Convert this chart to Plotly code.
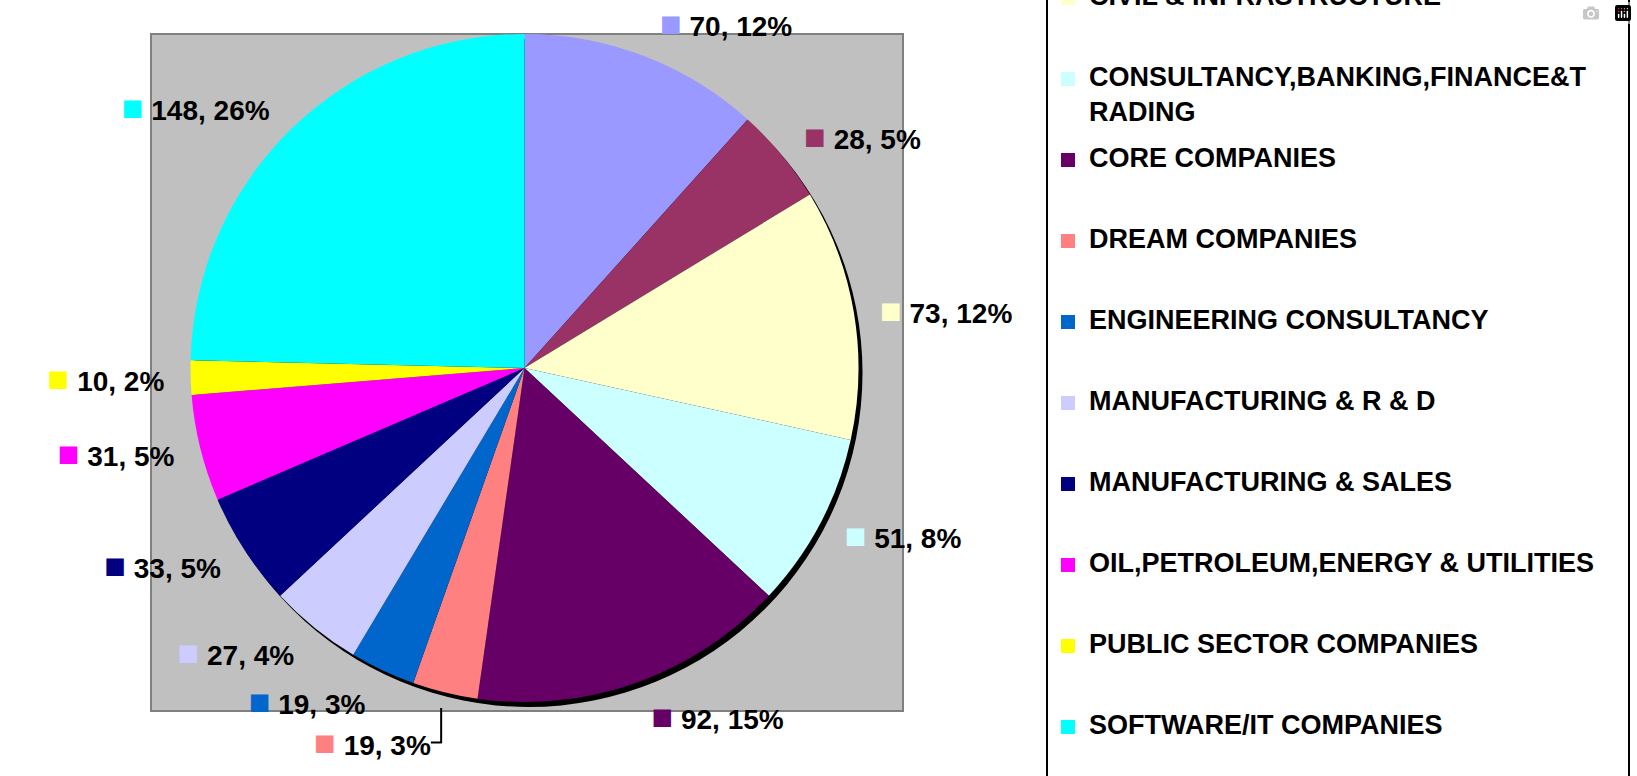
import plotly.graph_objects as go

# ---------------- data ----------------
categories = [
    "AUTOMOBILE",
    "CHEMICAL",
    "CIVIL & INFRASTRUCTURE",
    "CONSULTANCY,BANKING,FINANCE&T<br>RADING",
    "CORE COMPANIES",
    "DREAM COMPANIES",
    "ENGINEERING CONSULTANCY",
    "MANUFACTURING & R & D",
    "MANUFACTURING & SALES",
    "OIL,PETROLEUM,ENERGY & UTILITIES",
    "PUBLIC SECTOR COMPANIES",
    "SOFTWARE/IT COMPANIES",
]
values = [70, 28, 73, 51, 92, 19, 19, 27, 33, 31, 10, 148]
percent_labels = [12, 5, 12, 8, 15, 3, 3, 4, 5, 5, 2, 26]
colors = ["#9999FF", "#993366", "#FFFFCC", "#CCFFFF", "#660066", "#FF8080",
          "#0066CC", "#CCCCFF", "#000080", "#FF00FF", "#FFFF00", "#00FFFF"]

# ---------------- layout constants (pixels) ----------------
W, H = 1637, 776
def px(x):
    return x / W
def py(y):
    return 1 - y / H

plot_l, plot_t, plot_r, plot_b = 151, 34, 903, 711      # grey plot area
pie_l, pie_t, pie_r, pie_b = 151, 34, 898, 702           # pie domain
pie_cx = (pie_l + pie_r) / 2
pie_cy = (pie_t + pie_b) / 2
pie_rad = min(pie_r - pie_l, pie_b - pie_t) / 2
label_gap = 16   # extra radius used for placing the outside labels

texts = [
    f"<span style='color:{c};font-size:36px'>■</span> {v}, {p}%"
    for c, v, p in zip(colors, values, percent_labels)
]

fig = go.Figure()
# label carrier (same slices, slightly larger, transparent)
fig.add_trace(go.Pie(
    labels=categories,
    values=values,
    text=texts,
    textinfo="text",
    textposition="outside",
    sort=False,
    direction="clockwise",
    rotation=0,
    marker=dict(colors=["rgba(0,0,0,0)"] * len(values), line=dict(width=0)),
    outsidetextfont=dict(family="Arial", size=28, color="black", weight="bold"),
    domain=dict(x=[px(pie_l - label_gap), px(pie_r + label_gap)],
                y=[py(pie_b + label_gap), py(pie_t - label_gap)]),
    showlegend=False,
    hoverinfo="skip",
))
# visible pie
fig.add_trace(go.Pie(
    labels=categories,
    values=values,
    textinfo="none",
    sort=False,
    direction="clockwise",
    rotation=0,
    marker=dict(colors=colors, line=dict(width=0)),
    domain=dict(x=[px(pie_l), px(pie_r)], y=[py(pie_b), py(pie_t)]),
    showlegend=False,
    hoverinfo="label+value+percent",
))

shapes = [
    dict(type="rect", xref="paper", yref="paper",
         x0=px(plot_l), x1=px(plot_r), y0=py(plot_b), y1=py(plot_t),
         fillcolor="#C0C0C0", line=dict(color="#808080", width=2), layer="below"),
    # pie shadow
    dict(type="circle", xref="paper", yref="paper",
         x0=px(pie_cx - pie_rad + 4), x1=px(pie_cx + pie_rad + 4),
         y0=py(pie_cy + pie_rad + 5), y1=py(pie_cy - pie_rad + 5),
         fillcolor="black", line=dict(width=0), layer="below"),
    # legend box (extends beyond the visible area)
    dict(type="rect", xref="paper", yref="paper",
         x0=px(1047), x1=px(1629), y0=py(800), y1=py(-250),
         fillcolor="white", line=dict(color="black", width=2), layer="below"),
]

annotations = []
leg_first_y = 79 - 81 * 3   # y of first legend entry centre (pixels)
leg_step = 81
for i, (name, col) in enumerate(zip(categories, colors)):
    yc = leg_first_y + leg_step * i
    shapes.append(dict(type="rect", xref="paper", yref="paper",
                       x0=px(1061), x1=px(1075), y0=py(yc + 7), y1=py(yc - 7),
                       fillcolor=col, line=dict(width=0)))
    annotations.append(dict(
        text=name, xref="paper", yref="paper", x=px(1087), y=py(yc - 19),
        xanchor="left", yanchor="top", align="left", showarrow=False,
        font=dict(family="Arial", size=27, color="black", weight="bold"),
    ))

fig.update_layout(
    width=W, height=H,
    margin=dict(l=0, r=0, t=0, b=0, autoexpand=False),
    paper_bgcolor="white",
    shapes=shapes,
    annotations=annotations,
    showlegend=False,
)

fig.write_html("out.html",
               post_script="document.body.style.margin='0';document.body.style.overflow='hidden';")
